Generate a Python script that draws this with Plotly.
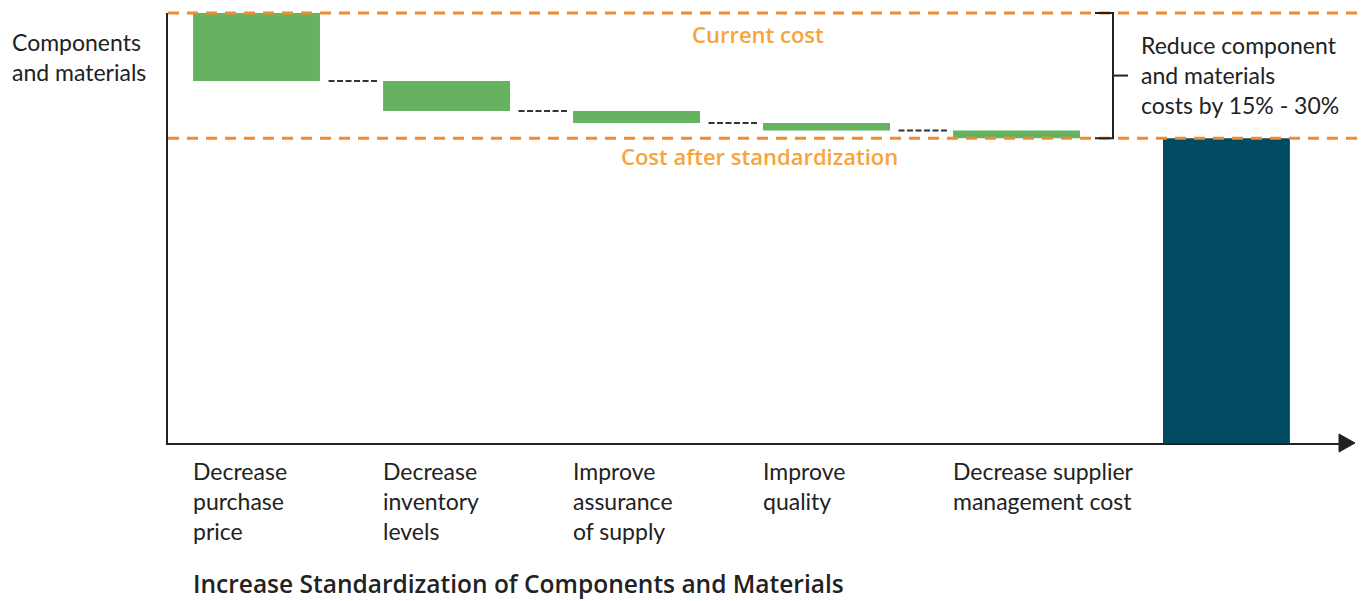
import plotly.graph_objects as go

# ---------------- data ----------------
categories = [
    "Decrease<br>purchase<br>price",
    "Decrease<br>inventory<br>levels",
    "Improve<br>assurance<br>of supply",
    "Improve<br>quality",
    "Decrease supplier<br>management cost",
]
current_cost = 100.0
reductions = [15.8, 7.0, 2.8, 1.75, 1.75]
y_title = "Components<br>and materials"
x_title = "Increase Standardization of Components and Materials"
top_label = "Current cost"
bottom_label = "Cost after standardization"
bracket_text = "Reduce component<br>and materials<br>costs by 15% - 30%"

bases = []
level = current_cost
for r in reductions:
    level -= r
    bases.append(level)
final_cost = level

# ---------------- layout geometry ----------------
W, H = 1363, 601
ML, MR, MT, MB = 168, 18, 13, 158
PW, PH = W - ML - MR, H - MT - MB
YMAX = current_cost
BAR_W = 0.668
X0, X1 = -0.466, 5.729
FINAL_POS = len(reductions) + 0.105

FONT = "Lato, 'Open Sans', sans-serif"
FONT_B = "'Open Sans', Lato, sans-serif"
TXT = "#222222"
GREEN = "#65B360"
TEAL = "#004A62"
ORANGE_LINE = "#F28A30"
ORANGE_TXT = "#F6A43C"


def px_x(p):
    return (p - ML) / PW


def px_y(p):
    return (MT + PH - p) / PH


def val_y(v):
    return v / YMAX


fig = go.Figure()

xs = list(range(len(reductions)))
fig.add_trace(go.Bar(
    x=xs, y=reductions, base=bases, width=BAR_W,
    marker=dict(color=GREEN, line=dict(width=0)),
    hoverinfo="skip", showlegend=False,
))
fig.add_trace(go.Bar(
    x=[FINAL_POS], y=[final_cost], base=[0], width=BAR_W,
    marker=dict(color=TEAL, line=dict(width=0)),
    hoverinfo="skip", showlegend=False,
))

# connectors between successive steps
cx, cy = [], []
for i in range(len(reductions) - 1):
    cx += [i + BAR_W / 2 + 0.045, i + 1 - BAR_W / 2 - 0.032, None]
    cy += [bases[i], bases[i], None]
fig.add_trace(go.Scatter(
    x=cx, y=cy, mode="lines",
    line=dict(color="#333333", width=2, dash="6px,2.5px"),
    hoverinfo="skip", showlegend=False,
))

shapes = []
# orange reference lines
for v in (current_cost, final_cost):
    shapes.append(dict(
        type="line", xref="paper", yref="paper",
        x0=0, x1=px_x(W), y0=val_y(v), y1=val_y(v),
        line=dict(color=ORANGE_LINE, width=3, dash="11px,8px"),
        layer="above",
    ))

# bracket
bx_v, bx_l, bx_r = px_x(1113), px_x(1095), px_x(1128)
yt, yb = val_y(current_cost), val_y(final_cost)
ym = (yt + yb) / 2
shapes.append(dict(
    type="path", xref="paper", yref="paper",
    path=f"M {bx_l},{yt} L {bx_v},{yt} L {bx_v},{yb} L {bx_l},{yb}",
    line=dict(color=TXT, width=2), layer="above",
))
shapes.append(dict(
    type="line", xref="paper", yref="paper",
    x0=bx_v, x1=bx_r, y0=ym, y1=ym,
    line=dict(color=TXT, width=2), layer="above",
))

# arrow head on x axis
tip, base_x = px_x(1355), px_x(1339)
ah = 9 / PH
shapes.append(dict(
    type="path", xref="paper", yref="paper",
    path=f"M {base_x},{ah} L {tip},0 L {base_x},{-ah} Z",
    fillcolor=TXT, line=dict(color=TXT, width=1), layer="above",
))

annotations = []
annotations.append(dict(
    text=y_title, xref="paper", yref="paper", x=px_x(10), y=px_y(57),
    xanchor="left", yanchor="middle", align="left", showarrow=False,
    font=dict(family=FONT, size=23, color=TXT),
))
annotations.append(dict(
    text=top_label, xref="paper", yref="paper", x=px_x(758), y=px_y(34),
    xanchor="center", yanchor="middle", showarrow=False,
    font=dict(family=FONT_B, size=22, weight=600, color=ORANGE_TXT),
))
annotations.append(dict(
    text=bottom_label, xref="paper", yref="paper", x=px_x(759), y=px_y(156),
    xanchor="center", yanchor="middle", showarrow=False,
    font=dict(family=FONT_B, size=22, weight=600, color=ORANGE_TXT),
))
annotations.append(dict(
    text=bracket_text, xref="paper", yref="paper", x=px_x(1139), y=px_y(75),
    xanchor="left", yanchor="middle", align="left", showarrow=False,
    font=dict(family=FONT, size=23, color=TXT),
))
for i, c in enumerate(categories):
    annotations.append(dict(
        text=c, xref="x", yref="paper", x=i - BAR_W / 2 - 0.011, y=px_y(455),
        xanchor="left", yanchor="top", align="left", showarrow=False,
        font=dict(family=FONT, size=23, color=TXT),
    ))
annotations.append(dict(
    text=x_title, xref="x", yref="paper", x=-BAR_W / 2 - 0.011, y=px_y(583),
    xanchor="left", yanchor="middle", align="left", showarrow=False,
    font=dict(family=FONT_B, size=24.5, weight=600, color=TXT),
))

fig.update_layout(
    width=W, height=H,
    margin=dict(l=ML, r=MR, t=MT, b=MB, pad=0),
    paper_bgcolor="white", plot_bgcolor="white",
    barmode="overlay", showlegend=False,
    shapes=shapes, annotations=annotations,
    font=dict(family=FONT, color=TXT),
    xaxis=dict(range=[X0, X1], showgrid=False, zeroline=False, showticklabels=False,
               ticks="", showline=True, linecolor=TXT, linewidth=2, fixedrange=True),
    yaxis=dict(range=[0, YMAX], showgrid=False, zeroline=False, showticklabels=False,
               ticks="", showline=True, linecolor=TXT, linewidth=2, fixedrange=True),
)

fig.write_html("out.html", config={"displayModeBar": False})
